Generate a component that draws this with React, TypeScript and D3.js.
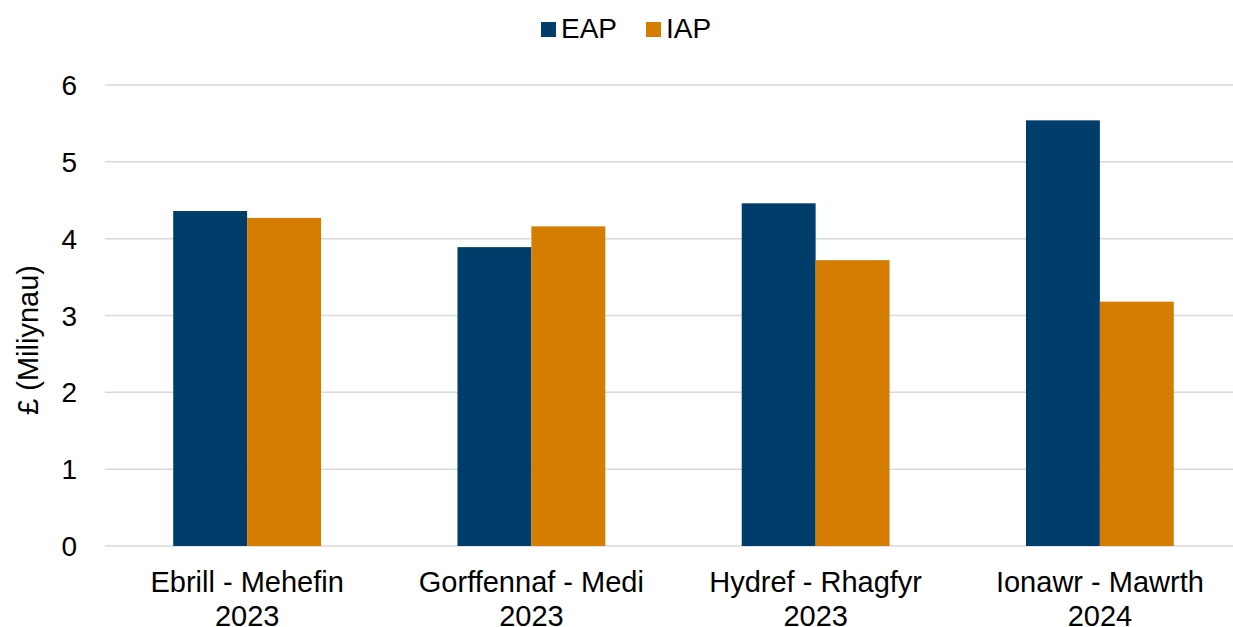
import React, { useEffect, useRef } from 'react';
import * as d3 from 'd3';

const categories = ['Ebrill - Mehefin|2023', 'Gorffennaf - Medi|2023', 'Hydref - Rhagfyr|2023', 'Ionawr - Mawrth|2024'];
const seriesNames = ['EAP', 'IAP'];
const eapValues = [4.36, 3.89, 4.46, 5.54];
const iapValues = [4.27, 4.16, 3.72, 3.18];
const yTicks = [0, 1, 2, 3, 4, 5, 6];
const colors = ['#003d6b', '#d57d00'];

const W = 1233;
const H = 627;

const App: React.FC = () => {
  const svgRef = useRef<SVGSVGElement>(null);

  useEffect(() => {
    if (!svgRef.current) return;
    const svg = d3.select(svgRef.current);
    svg.selectAll('*').remove();

    const font = 'Liberation Sans, Arial, sans-serif';
    const margin = { top: 85, right: -9, bottom: 81, left: 105 };
    const innerW = W - margin.left - margin.right;
    const innerH = H - margin.top - margin.bottom;

    const g = svg.append('g').attr('transform', `translate(${margin.left},${margin.top})`);

    const x = d3.scaleBand().domain(categories).range([0, innerW]).paddingInner(0.48).paddingOuter(0.24);
    const xs = d3.scaleBand().domain(seriesNames).range([0, x.bandwidth()]);
    const y = d3.scaleLinear().domain([0, 6]).range([innerH, 0]);

    // gridlines
    g.selectAll('line.grid')
      .data(yTicks)
      .enter()
      .append('line')
      .attr('x1', 0)
      .attr('x2', innerW)
      .attr('y1', d => y(d))
      .attr('y2', d => y(d))
      .attr('stroke', '#d9d9d9')
      .attr('stroke-width', 1.5);

    // y tick labels
    g.selectAll('text.ytick')
      .data(yTicks)
      .enter()
      .append('text')
      .attr('x', -28)
      .attr('y', d => y(d) + 10)
      .attr('text-anchor', 'end')
      .style('font-family', font)
      .style('font-size', '28px')
      .style('fill', '#000')
      .text(d => d);

    // bars
    const data = categories.map((c, i) => ({ cat: c, vals: [eapValues[i], iapValues[i]] }));
    const groups = g.selectAll('g.cat')
      .data(data)
      .enter()
      .append('g')
      .attr('transform', d => `translate(${x(d.cat)},0)`);

    groups.selectAll('rect')
      .data(d => d.vals.map((v, j) => ({ key: seriesNames[j], v, j })))
      .enter()
      .append('rect')
      .attr('x', d => xs(d.key)!)
      .attr('width', xs.bandwidth())
      .attr('y', d => y(d.v))
      .attr('height', d => innerH - y(d.v))
      .attr('fill', d => colors[d.j]);

    // x labels (two lines)
    const xl = g.selectAll('text.xlab')
      .data(categories)
      .enter()
      .append('text')
      .attr('text-anchor', 'middle')
      .style('font-family', font)
      .style('font-size', '29px')
      .style('fill', '#000')
      .attr('transform', d => `translate(${x(d)! + x.bandwidth() / 2},${innerH})`);
    xl.append('tspan').attr('x', 0).attr('y', 46).text(d => d.split('|')[0]);
    xl.append('tspan').attr('x', 0).attr('y', 80).text(d => d.split('|')[1]);

    // y axis title
    svg.append('text')
      .attr('transform', `translate(38,340) rotate(-90)`)
      .attr('text-anchor', 'middle')
      .style('font-family', font)
      .style('font-size', '29px')
      .style('fill', '#000')
      .text('£ (Miliynau)');

    // legend
    const legend = svg.append('g').attr('transform', 'translate(541,0)');
    const offsets = [0, 105];
    seriesNames.forEach((s, i) => {
      legend.append('rect')
        .attr('x', offsets[i])
        .attr('y', 22)
        .attr('width', 15)
        .attr('height', 15)
        .attr('fill', colors[i]);
      legend.append('text')
        .attr('x', offsets[i] + 20)
        .attr('y', 38)
        .style('font-family', font)
        .style('font-size', '28px')
        .style('fill', '#000')
        .text(s);
    });
  }, []);

  return (
    <svg ref={svgRef} width={W} height={H} style={{ position: 'absolute', left: 0, top: 0, background: '#fff' }} />
  );
};

export default App;
